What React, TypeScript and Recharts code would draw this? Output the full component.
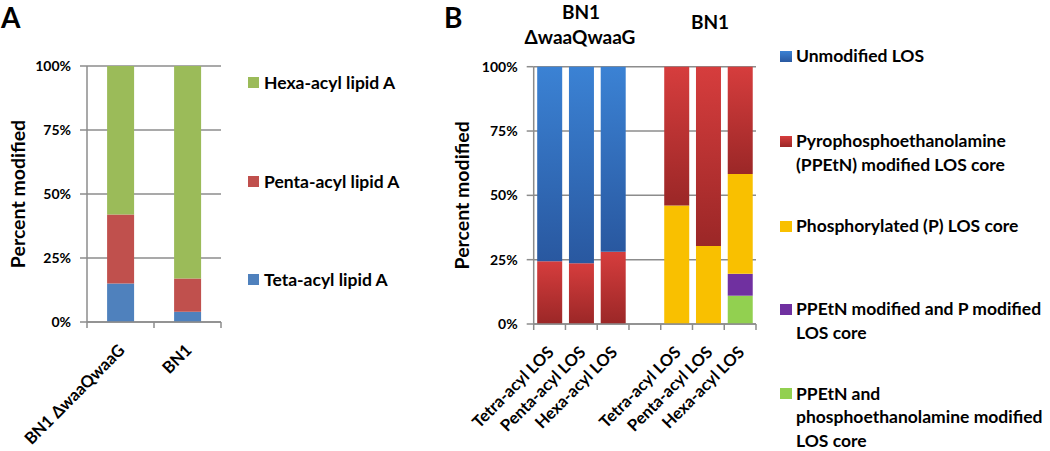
import React from 'react';
import { BarChart, Bar, XAxis, YAxis, CartesianGrid, Legend } from 'recharts';

// ---------- Panel A data ----------
const categoriesA = ['BN1 ΔwaaQwaaG', 'BN1'];
const tetraA = [15, 4];
const pentaA = [27, 13];
const hexaA = [58, 83];

// ---------- Panel B data ----------
const categoriesB = ['Tetra-acyl LOS', 'Penta-acyl LOS', 'Hexa-acyl LOS', '', 'Tetra-acyl LOS', 'Penta-acyl LOS', 'Hexa-acyl LOS'];
const unmodifiedB = [75.6, 76.4, 71.9, 0, 0, 0, 0];
const ppetnB = [24.4, 23.6, 28.1, 0, 53.9, 69.7, 41.7];
const phosB = [0, 0, 0, 0, 46.1, 30.3, 38.8];
const bothB = [0, 0, 0, 0, 0, 0, 8.5];
const ppetnPetnB = [0, 0, 0, 0, 0, 0, 11];

const yTicks = [0, 25, 50, 75, 100];

const legendA = ['Hexa-acyl lipid A', 'Penta-acyl lipid A', 'Teta-acyl lipid A'];
const legendB = [
  ['Unmodified LOS'],
  ['Pyrophosphoethanolamine', '(PPEtN) modified LOS core'],
  ['Phosphorylated (P) LOS core'],
  ['PPEtN modified and P modified', 'LOS core'],
  ['PPEtN and', 'phosphoethanolamine modified', 'LOS core'],
];

const dataA = categoriesA.map((cat, i) => ({ cat, tetra: tetraA[i], penta: pentaA[i], hexa: hexaA[i] }));
const dataB = categoriesB.map((cat, i) => ({
  cat,
  unmod: unmodifiedB[i],
  ppetn: ppetnB[i],
  phos: phosB[i],
  both: bothB[i],
  ppetnPetn: ppetnPetnB[i],
}));

const FONT = 'Lato, "Open Sans", sans-serif';
const GRID = '#8c8c8c';

// layout constants
const A_W = 440, A_LEFT_AXIS = 87, A_PLOT_RIGHT = 221;
const B_X = 440, B_W = 610, B_LEFT_AXIS = 93.7, B_PLOT_RIGHT = 316;
const A_HB = (A_PLOT_RIGHT - A_LEFT_AXIS) / categoriesA.length / 2;
const B_HB = (B_PLOT_RIGHT - B_LEFT_AXIS) / categoriesB.length / 2;

const makeTick = (hb: number, n: number) => (props: any) => {
  const { x, y, payload, index } = props;
  const ax = x + 1;
  const ay = y + 25;
  return (
    <g>
      <line x1={x - hb} x2={x - hb} y1={y} y2={y + 6} stroke={GRID} strokeWidth={1.5} />
      {index === n - 1 && <line x1={x + hb} x2={x + hb} y1={y} y2={y + 6} stroke={GRID} strokeWidth={1.5} />}
      <text
        x={ax}
        y={ay}
        transform={`rotate(-45, ${ax}, ${ay})`}
        textAnchor="end"
        dominantBaseline="central"
        fontFamily={FONT}
        fontWeight={700}
        fontSize={16.5}
        fill="#000"
      >
        {payload.value}
      </text>
    </g>
  );
};

const yTickStyle = { fill: '#000', fontSize: 14, fontWeight: 700, fontFamily: FONT };

const legendAContent = () => (
  <div style={{ position: 'relative', width: 200, height: 451, fontFamily: FONT }}>
    {legendA.map((t, i) => {
      const colors = ['#9bbb59', '#c0504d', '#4f81bd'];
      const cy = [82, 181, 279][i];
      return (
        <div key={t} style={{ position: 'absolute', left: 0, top: cy - 12, height: 24, display: 'flex', alignItems: 'center', whiteSpace: 'nowrap' }}>
          <span style={{ width: 11, height: 11, background: colors[i], display: 'inline-block', marginRight: 5 }} />
          <span style={{ fontWeight: 700, fontSize: 17.5, color: '#000' }}>{t}</span>
        </div>
      );
    })}
  </div>
);

const legendBContent = () => (
  <div style={{ position: 'relative', width: 270, height: 451, fontFamily: FONT }}>
    {legendB.map((lines, i) => {
      const swatch = [
        'linear-gradient(#3b82d4, #2958a0)',
        'linear-gradient(#d63d3d, #9b2727)',
        '#f9c000',
        '#7030a0',
        '#92d050',
      ][i];
      const cy = [56, 141, 226, 309, 393.5][i];
      return (
        <div key={i} style={{ position: 'absolute', left: 0, top: cy - 9, whiteSpace: 'nowrap' }}>
          <span style={{ position: 'absolute', left: 0, top: 3.5, width: 12, height: 11, background: swatch }} />
          <div style={{ marginLeft: 16, fontWeight: 700, fontSize: 17.5, color: '#000' }}>
            {lines.map((l, j) => (
              <div key={j} style={{ height: 18, lineHeight: '18px', marginBottom: j < lines.length - 1 ? 5.8 : 0 }}>{l}</div>
            ))}
          </div>
        </div>
      );
    })}
  </div>
);

const yTitle = (cx: number) => (props: any) => {
  const vb = props.viewBox;
  const cy = vb.y + vb.height / 2;
  return (
    <text
      x={cx}
      y={cy}
      transform={`rotate(-90, ${cx}, ${cy})`}
      textAnchor="middle"
      dominantBaseline="central"
      fontFamily={FONT}
      fontWeight={700}
      fontSize={19.5}
      fill="#000"
    >
      Percent modified
    </text>
  );
};

export default function App() {
  return (
    <div style={{ position: 'absolute', left: 0, top: 0, width: 1050, height: 451, background: '#fff', overflow: 'hidden' }}>
      <div style={{ position: 'absolute', left: 0, top: 0 }}>
        <BarChart
          width={A_W}
          height={451}
          data={dataA}
          margin={{ top: 66, right: A_W - A_PLOT_RIGHT, bottom: 0, left: 0 }}
          barCategoryGap="30%"
        >
          <CartesianGrid vertical={false} stroke={GRID} strokeWidth={1.5} />
          <XAxis
            dataKey="cat"
            height={129}
            interval={0}
            tickLine={false}
            tickSize={0}
            tickMargin={0}
            axisLine={{ stroke: GRID, strokeWidth: 1.5 }}
            tick={makeTick(A_HB, categoriesA.length)}
          />
          <YAxis
            width={A_LEFT_AXIS}
            domain={[0, 100]}
            ticks={yTicks}
            tickFormatter={(v: number) => `${v}%`}
            tickSize={7}
            tickMargin={9}
            tick={yTickStyle}
            axisLine={{ stroke: GRID, strokeWidth: 1.5 }}
            tickLine={{ stroke: GRID, strokeWidth: 1.5 }}
            label={{ content: yTitle(17) }}
          />
          <Bar dataKey="tetra" name="Teta-acyl lipid A" stackId="a" fill="#4f81bd" isAnimationActive={false} />
          <Bar dataKey="penta" name="Penta-acyl lipid A" stackId="a" fill="#c0504d" isAnimationActive={false} />
          <Bar dataKey="hexa" name="Hexa-acyl lipid A" stackId="a" fill="#9bbb59" isAnimationActive={false} />
          <Legend
            layout="horizontal"
            align="center"
            verticalAlign="middle"
            content={legendAContent}
            wrapperStyle={{ position: 'absolute', left: 248, top: 0, width: 200, height: 451 }}
          />
        </BarChart>
      </div>

      <div style={{ position: 'absolute', left: B_X, top: 0 }}>
        <BarChart
          width={B_W}
          height={451}
          data={dataB}
          margin={{ top: 66.7, right: B_W - B_PLOT_RIGHT, bottom: 0, left: 0 }}
          barCategoryGap="11%"
        >
          <defs>
            <linearGradient id="gBlue" x1="0" y1="0" x2="0" y2="1">
              <stop offset="0%" stopColor="#3b82d4" />
              <stop offset="100%" stopColor="#2958a0" />
            </linearGradient>
            <linearGradient id="gRed" x1="0" y1="0" x2="0" y2="1">
              <stop offset="0%" stopColor="#d63d3d" />
              <stop offset="100%" stopColor="#9b2727" />
            </linearGradient>
          </defs>
          <CartesianGrid vertical={false} stroke={GRID} strokeWidth={1.5} />
          <XAxis
            dataKey="cat"
            height={127}
            interval={0}
            tickLine={false}
            tickSize={0}
            tickMargin={0}
            axisLine={{ stroke: GRID, strokeWidth: 1.5 }}
            tick={makeTick(B_HB, categoriesB.length)}
          />
          <YAxis
            width={B_LEFT_AXIS}
            domain={[0, 100]}
            ticks={yTicks}
            tickFormatter={(v: number) => `${v}%`}
            tickSize={7}
            tickMargin={9}
            tick={yTickStyle}
            axisLine={{ stroke: GRID, strokeWidth: 1.5 }}
            tickLine={{ stroke: GRID, strokeWidth: 1.5 }}
            label={{ content: yTitle(22) }}
          />
          <Bar dataKey="ppetnPetn" name="PPEtN and phosphoethanolamine modified LOS core" stackId="b" fill="#92d050" isAnimationActive={false} />
          <Bar dataKey="both" name="PPEtN modified and P modified LOS core" stackId="b" fill="#7030a0" isAnimationActive={false} />
          <Bar dataKey="phos" name="Phosphorylated (P) LOS core" stackId="b" fill="#f9c000" isAnimationActive={false} />
          <Bar dataKey="ppetn" name="Pyrophosphoethanolamine (PPEtN) modified LOS core" stackId="b" fill="url(#gRed)" isAnimationActive={false} />
          <Bar dataKey="unmod" name="Unmodified LOS" stackId="b" fill="url(#gBlue)" isAnimationActive={false} />
          <Legend
            layout="horizontal"
            align="center"
            verticalAlign="middle"
            content={legendBContent}
            wrapperStyle={{ position: 'absolute', left: 340, top: 0, width: 270, height: 451 }}
          />
        </BarChart>
      </div>

      <svg width={1050} height={451} style={{ position: 'absolute', left: 0, top: 0, pointerEvents: 'none' }}>
        <g fontFamily={FONT} fontWeight={700} fill="#000">
          <text x={1} y={17} fontSize={28} dominantBaseline="central">A</text>
          <text x={444} y={16.5} fontSize={28} dominantBaseline="central">B</text>
          <text x={581} y={11} fontSize={19} textAnchor="middle" dominantBaseline="central">BN1</text>
          <text x={580} y={36} fontSize={19} textAnchor="middle" dominantBaseline="central">ΔwaaQwaaG</text>
          <text x={710} y={21.5} fontSize={19} textAnchor="middle" dominantBaseline="central">BN1</text>
        </g>
      </svg>
    </div>
  );
}
